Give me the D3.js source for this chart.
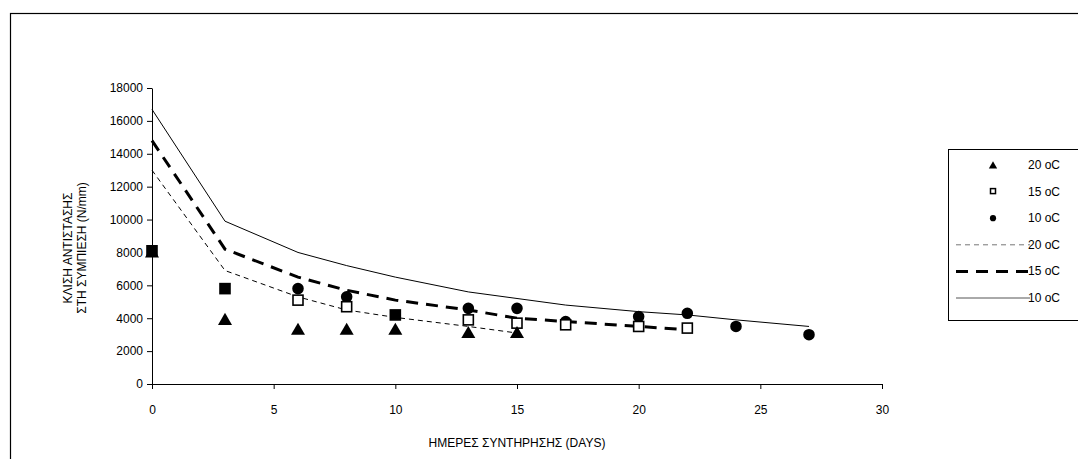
<!DOCTYPE html>
<html>
<head>
<meta charset="utf-8">
<script src="https://cdn.jsdelivr.net/npm/d3@7"></script>
<style>
  body { margin: 0; background: #fff; }
  text { font-family: "Liberation Sans", Arial, sans-serif; }
</style>
</head>
<body>
<div id="chart"></div>
<script>
// data
var tri20Days = [0, 3, 6, 8, 10, 13, 15];
var tri20Vals = [8000, 3900, 3300, 3300, 3300, 3100, 3100];

var sq15Days = [0, 3, 6, 8, 10, 13, 15, 17, 20, 22];
var sq15Vals = [8100, 5800, 5100, 4700, 4200, 3900, 3700, 3600, 3500, 3400];
var sq15Filled = [true, true, false, false, true, false, false, false, false, false];

var dot10Days = [6, 8, 13, 15, 17, 20, 22, 24, 27];
var dot10Vals = [5800, 5300, 4600, 4600, 3800, 4100, 4300, 3500, 3000];

var line20Days = [0, 3, 6, 8, 10, 13, 15];
var line20Vals = [13000, 6900, 5300, 4500, 4050, 3500, 3100];

var line15Days = [0, 3, 6, 8, 10, 13, 15, 17, 20, 22];
var line15Vals = [14800, 8200, 6500, 5700, 5100, 4500, 4000, 3800, 3500, 3300];

var line10Days = [0, 3, 6, 8, 10, 13, 15, 17, 20, 22, 24, 27];
var line10Vals = [16700, 9900, 8000, 7200, 6500, 5600, 5200, 4800, 4400, 4200, 3900, 3500];

var xTicks = [0, 5, 10, 15, 20, 25, 30];
var yTicks = [0, 2000, 4000, 6000, 8000, 10000, 12000, 14000, 16000, 18000];

var legendLabels = ["20 oC", "15 oC", "10 oC", "20 oC", "15 oC", "10 oC"];

var svgWidth = 1078;
var svgHeight = 459;

var svg = d3.select("#chart")
  .append("svg")
  .attr("width", svgWidth)
  .attr("height", svgHeight);

// outer frame (runs off the right and bottom edges)
svg.append("rect")
  .attr("x", 10.5)
  .attr("y", 13.5)
  .attr("width", 1100)
  .attr("height", 500)
  .attr("fill", "none")
  .attr("stroke", "#000")
  .attr("stroke-width", 1.2);

var xScale = d3.scaleLinear().domain([0, 30]).range([152, 882]);
var yScale = d3.scaleLinear().domain([0, 18000]).range([384, 88]);

var xAxis = d3.axisBottom(xScale).tickValues(xTicks).tickFormat(d3.format("d"))
  .tickSize(5).tickSizeOuter(0).tickPadding(16);
var yAxis = d3.axisLeft(yScale).tickValues(yTicks).tickFormat(d3.format("d"))
  .tickSize(5).tickSizeOuter(0).tickPadding(4);

var gx = svg.append("g")
  .attr("transform", "translate(0,384)")
  .call(xAxis);
var gy = svg.append("g")
  .attr("transform", "translate(152,0)")
  .call(yAxis);

[gx, gy].forEach(function(g) {
  g.selectAll("path, line").attr("stroke", "#000");
  g.selectAll("text")
    .attr("font-size", "12px")
    .attr("fill", "#000")
    .style("font-family", "'Liberation Sans', Arial, sans-serif");
});

// axis titles
svg.append("text")
  .attr("x", 517)
  .attr("y", 447)
  .attr("text-anchor", "middle")
  .attr("font-size", "12px")
  .text("ΗΜΕΡΕΣ ΣΥΝΤΗΡΗΣΗΣ (DAYS)");

svg.append("text")
  .attr("transform", "translate(72,248) rotate(-90)")
  .attr("text-anchor", "middle")
  .attr("font-size", "12px")
  .text("ΚΛΙΣΗ ΑΝΤΙΣΤΑΣΗΣ");
svg.append("text")
  .attr("transform", "translate(86,248) rotate(-90)")
  .attr("text-anchor", "middle")
  .attr("font-size", "12px")
  .text("ΣΤΗ ΣΥΜΠΙΕΣΗ (N/mm)");

// lines
function pairs(xs, ys) {
  return xs.map(function(d, i) { return [d, ys[i]]; });
}
var lineGen = d3.line()
  .x(function(d) { return xScale(d[0]); })
  .y(function(d) { return yScale(d[1]); });

var lineSeries = [
  { pts: pairs(line10Days, line10Vals), width: 1, dash: null },
  { pts: pairs(line15Days, line15Vals), width: 3, dash: "12,8" },
  { pts: pairs(line20Days, line20Vals), width: 1, dash: "5,4" }
];
lineSeries.forEach(function(s) {
  svg.append("path")
    .datum(s.pts)
    .attr("d", lineGen)
    .attr("fill", "none")
    .attr("stroke", "#000")
    .attr("stroke-width", s.width)
    .attr("stroke-dasharray", s.dash);
});

// markers
var triSym = d3.symbol().type(d3.symbolTriangle).size(85);
var dotSym = d3.symbol().type(d3.symbolCircle).size(105);

svg.selectAll(".dot10")
  .data(pairs(dot10Days, dot10Vals))
  .enter()
  .append("path")
  .attr("class", "dot10")
  .attr("d", dotSym)
  .attr("transform", function(d) { return "translate(" + xScale(d[0]) + "," + yScale(d[1]) + ")"; })
  .attr("fill", "#000");

svg.selectAll(".sq15")
  .data(pairs(sq15Days, sq15Vals))
  .enter()
  .append("rect")
  .attr("class", "sq15")
  .attr("x", function(d) { return xScale(d[0]) - 5; })
  .attr("y", function(d) { return yScale(d[1]) - 5; })
  .attr("width", 10)
  .attr("height", 10)
  .attr("fill", function(d, i) { return sq15Filled[i] ? "#000" : "#fff"; })
  .attr("stroke", "#000")
  .attr("stroke-width", 1.6);

svg.selectAll(".tri20")
  .data(pairs(tri20Days, tri20Vals))
  .enter()
  .append("path")
  .attr("class", "tri20")
  .attr("d", triSym)
  .attr("transform", function(d) { return "translate(" + xScale(d[0]) + "," + (yScale(d[1]) + 1) + ")"; })
  .attr("fill", "#000");

// legend
var legend = svg.append("g");
legend.append("rect")
  .attr("x", 948.5)
  .attr("y", 149.5)
  .attr("width", 140)
  .attr("height", 171)
  .attr("fill", "#fff")
  .attr("stroke", "#000");

var legY = d3.scalePoint().domain(d3.range(legendLabels.length)).range([165, 298]);

legend.selectAll("text")
  .data(legendLabels)
  .enter()
  .append("text")
  .attr("x", 1028)
  .attr("y", function(d, i) { return legY(i) + 4; })
  .attr("font-size", "12px")
  .text(function(d) { return d; });

legend.append("path")
  .attr("d", d3.symbol().type(d3.symbolTriangle).size(30))
  .attr("transform", "translate(993," + (legY(0) + 1) + ")");
legend.append("rect")
  .attr("x", 990.5).attr("y", legY(1) - 3)
  .attr("width", 5).attr("height", 5)
  .attr("fill", "#fff").attr("stroke", "#000").attr("stroke-width", 1.5);
legend.append("path")
  .attr("d", d3.symbol().type(d3.symbolCircle).size(30))
  .attr("transform", "translate(993," + legY(2) + ")");

var legLines = [
  { i: 3, width: 1, dash: "5,4", color: "#777" },
  { i: 4, width: 3, dash: "12,8", color: "#000" },
  { i: 5, width: 1, dash: null, color: "#555" }
];
legLines.forEach(function(l) {
  legend.append("line")
    .attr("x1", 956).attr("x2", 1030)
    .attr("y1", legY(l.i)).attr("y2", legY(l.i))
    .attr("stroke", l.color)
    .attr("stroke-width", l.width)
    .attr("stroke-dasharray", l.dash);
});
</script>
</body>
</html>
